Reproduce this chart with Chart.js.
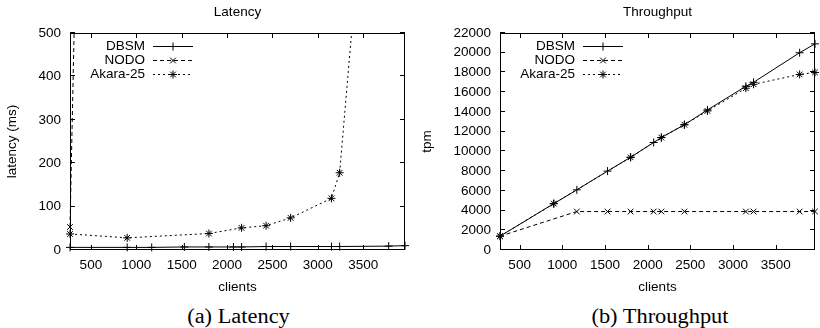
<!DOCTYPE html>
<html>
<head>
<meta charset="utf-8">
<script src="https://cdn.jsdelivr.net/npm/chart.js@4.4.1/dist/chart.umd.min.js"></script>
<style>
  html, body { margin: 0; padding: 0; background: #fff; }
  #wrap { position: relative; width: 820px; height: 328px; overflow: hidden; }
  canvas { position: absolute; top: 0; }
  #latencyChart { left: 0; }
  #tpmChart { left: 410px; }
  .caption {
    position: absolute; top: 305px;
    font-family: "Liberation Serif", "Times New Roman", serif;
    font-size: 20px; line-height: 22px; text-align: center; color: #000;
    transform: scaleX(1.12);
  }
</style>
</head>
<body>
<div id="wrap">
  <canvas id="latencyChart" width="410" height="300"></canvas>
  <canvas id="tpmChart" width="410" height="300"></canvas>
  <div class="caption" style="left:70px;width:337px">(a) Latency</div>
  <div class="caption" style="left:500px;width:320px">(b) Throughput</div>
</div>
<script>
  // tick labels
  const clientTicks = [500, 1000, 1500, 2000, 2500, 3000, 3500];
  const latencyTicks = [0, 100, 200, 300, 400, 500];
  const tpmTicks = [0, 2000, 4000, 6000, 8000, 10000, 12000, 14000, 16000, 18000, 20000, 22000];

  // DBSM
  const dbsmClients = [270, 900, 1170, 1530, 1800, 2070, 2160, 2430, 2700, 3150, 3240, 3780, 3960];
  const dbsmLatency = [6, 6, 6, 7, 7, 7, 7, 8, 8, 8, 8, 9, 10];
  const dbsmTpm = [1400, 4700, 6100, 8000, 9400, 10900, 11400, 12700, 14200, 16600, 17000, 20000, 20900];

  // NODO (latency leaves the plot after the first point)
  const nodoClients = [270, 1170, 1530, 1800, 2070, 2160, 2430, 3150, 3240, 3780, 3960];
  const nodoLatency = [53, 9000, 12000, 14500, 17000, 17800, 20000, 26000, 27000, 31000, 32500];
  const nodoTpm = [1400, 3900, 3900, 3900, 3900, 3900, 3900, 3900, 3900, 3900, 3900];

  // Akara-25
  const akaraClients = [270, 900, 1800, 2160, 2430, 2700, 3150, 3240, 3780, 3960];
  const akaraLatency = [37, 28, 38, 51, 56, 74, 119, 178, 1500, 3000];
  const akaraTpm = [1400, 4700, 9400, 11400, 12700, 14100, 16400, 16800, 17800, 18000];

  const FONT = "'Liberation Sans', Arial, Helvetica, sans-serif";
  const SIZE = 13.5;

  function pairs(xs, ys) {
    return xs.map((x, i) => ({ x: x, y: ys[i] }));
  }

  function series(label, xs, ys, style, dash) {
    return {
      label: label,
      data: pairs(xs, ys),
      borderColor: "#000",
      backgroundColor: "#000",
      borderWidth: 1,
      borderDash: dash,
      pointStyle: style,
      pointRadius: 4,
      pointBorderWidth: 1,
      pointBorderColor: "#000",
      tension: 0,
      fill: false,
      clip: { left: 6, right: 6, top: 0, bottom: 6 }
    };
  }

  // box with inward ticks on all four sides, like gnuplot
  const gnuplotFrame = {
    id: "gnuplotFrame",
    beforeDatasetsDraw(chart) {
      const { ctx, chartArea: a, scales } = chart;
      ctx.save();
      ctx.strokeStyle = "#000";
      ctx.lineWidth = 1;
      ctx.beginPath();
      scales.x.ticks.forEach(function (t) {
        const px = Math.round(scales.x.getPixelForValue(t.value)) + 0.5;
        ctx.moveTo(px, a.bottom); ctx.lineTo(px, a.bottom - 5);
        ctx.moveTo(px, a.top); ctx.lineTo(px, a.top + 5);
      });
      scales.y.ticks.forEach(function (t) {
        const py = Math.round(scales.y.getPixelForValue(t.value)) - 0.5;
        ctx.moveTo(a.left, py); ctx.lineTo(a.left + 5, py);
        ctx.moveTo(a.right, py); ctx.lineTo(a.right - 5, py);
      });
      ctx.stroke();
      ctx.strokeRect(a.left + 0.5, a.top + 0.5, a.right - a.left - 1, a.bottom - a.top - 1);
      ctx.restore();
    }
  };

  // key in the top-left corner: label, then line sample with marker
  const gnuplotKey = {
    id: "gnuplotKey",
    afterDatasetsDraw(chart) {
      const { ctx, chartArea: a } = chart;
      ctx.save();
      ctx.font = SIZE + "px " + FONT;
      ctx.fillStyle = "#000";
      ctx.strokeStyle = "#000";
      ctx.lineWidth = 1;
      ctx.textAlign = "right";
      ctx.textBaseline = "middle";
      chart.data.datasets.forEach(function (ds, i) {
        const y = a.top + 13 + i * 14;
        ctx.fillText(ds.label, a.left + 75, y);
        ctx.save();
        ctx.setLineDash(ds.borderDash || []);
        ctx.beginPath();
        ctx.moveTo(a.left + 83, Math.round(y) + 0.5);
        ctx.lineTo(a.left + 123, Math.round(y) + 0.5);
        ctx.stroke();
        ctx.restore();
        Chart.helpers.drawPoint(ctx, { pointStyle: ds.pointStyle, radius: 4, rotation: 0, borderWidth: 1 }, a.left + 103, Math.round(y) + 0.5);
      });
      ctx.restore();
    }
  };

  function makeChart(id, title, yLabel, yTicks, yMax, yWidth, yTitlePad, padRight, datasets) {
    return new Chart(document.getElementById(id), {
      type: "line",
      data: { datasets: datasets },
      options: {
        responsive: false,
        animation: false,
        events: [],
        layout: { padding: { left: 0, right: padRight, top: 0, bottom: 0 } },
        plugins: {
          legend: { display: false },
          tooltip: { enabled: false },
          title: {
            display: true,
            text: title,
            fullSize: false,
            color: "#000",
            font: { family: FONT, size: SIZE, weight: "normal" },
            padding: { top: 3.7, bottom: 13.1 }
          }
        },
        scales: {
          x: {
            type: "linear",
            min: 270,
            max: 3960,
            afterBuildTicks: function (s) { s.ticks = clientTicks.map((v) => ({ value: v })); },
            afterFit: function (s) { s.height = 50; },
            grid: { display: false, drawTicks: false },
            border: { display: false },
            ticks: {
              color: "#000",
              font: { family: FONT, size: SIZE },
              padding: 7,
              maxRotation: 0,
              autoSkip: false,
              callback: (v) => String(v)
            },
            title: {
              display: true,
              text: "clients",
              color: "#000",
              font: { family: FONT, size: SIZE },
              padding: { top: 0, bottom: 4.9 }
            }
          },
          y: {
            type: "linear",
            min: 0,
            max: yMax,
            afterBuildTicks: function (s) { s.ticks = yTicks.map((v) => ({ value: v })); },
            afterFit: function (s) { s.width = yWidth; },
            grid: { display: false, drawTicks: false },
            border: { display: false },
            ticks: {
              color: "#000",
              font: { family: FONT, size: SIZE },
              padding: 9,
              autoSkip: false,
              callback: (v) => String(v)
            },
            title: {
              display: true,
              text: yLabel,
              color: "#000",
              font: { family: FONT, size: SIZE },
              padding: { top: yTitlePad, bottom: 0 }
            }
          }
        }
      },
      plugins: [gnuplotFrame, gnuplotKey]
    });
  }

  makeChart("latencyChart", "Latency", "latency (ms)", latencyTicks, 500, 70, 4.4, 3, [
    series("DBSM", dbsmClients, dbsmLatency, "cross", []),
    series("NODO", nodoClients, nodoLatency, "crossRot", [4, 3]),
    series("Akara-25", akaraClients, akaraLatency, "star", [2, 3])
  ]);

  makeChart("tpmChart", "Throughput", "tpm", tpmTicks, 22000, 90, 8.9, 0, [
    series("DBSM", dbsmClients, dbsmTpm, "cross", []),
    series("NODO", nodoClients, nodoTpm, "crossRot", [4, 3]),
    series("Akara-25", akaraClients, akaraTpm, "star", [2, 3])
  ]);
</script>
</body>
</html>
